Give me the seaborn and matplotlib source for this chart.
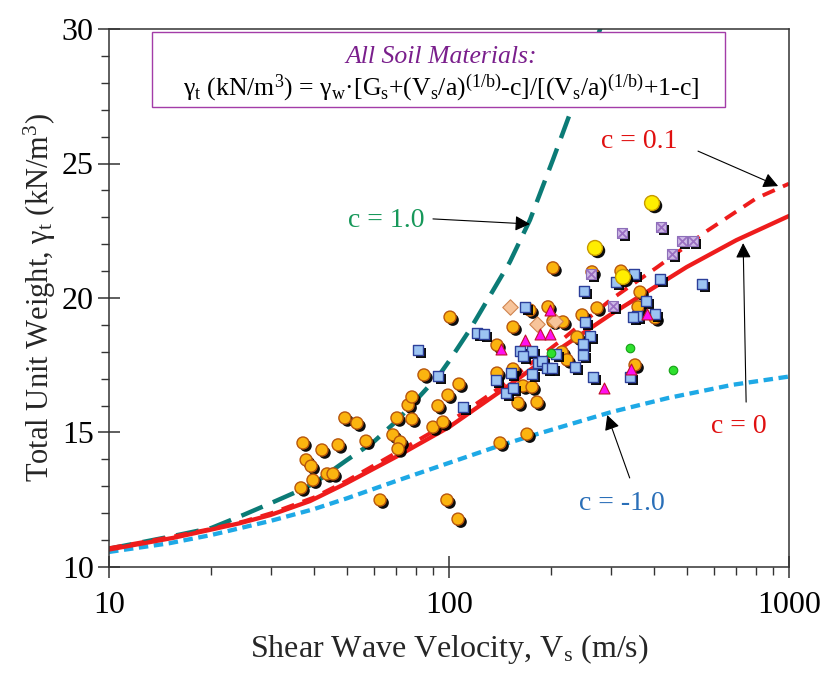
import numpy as np
import pandas as pd
import seaborn as sns
import matplotlib.pyplot as plt
from matplotlib import patheffects as pe
from matplotlib.patches import Rectangle
from matplotlib.ticker import FixedLocator, NullFormatter, LogLocator, MultipleLocator

# ---------------- data ----------------
# Trend curves: total unit weight vs shear wave velocity for several c values
vs_c1 = [10, 15, 20, 25, 30, 35.7, 40, 50, 60, 70, 80, 94, 100, 115, 120, 151, 173, 202, 230, 260, 280, 320]
gt_c1 = [10.68, 11.12, 11.45, 11.95, 12.38, 12.8, 13.1, 13.97, 14.65, 15.42, 16.2, 17.17, 17.65,
         18.81, 19.2, 21.34, 22.9, 25.13, 27.06, 28.9, 30.1, 32.6]

vs_c01 = [10, 15, 20, 25, 30, 40, 50, 70, 100, 135, 215, 300, 410, 575, 800, 1000]
gt_c01 = [10.7, 11.1, 11.42, 11.7, 12.0, 12.58, 13.2, 14.25, 15.38, 16.5, 18.45, 19.95, 21.15, 22.5, 23.7, 24.25]

vs_c0 = [10, 15.4, 19.8, 24.3, 29.8, 39, 50, 70, 100, 150, 200, 300, 500, 700, 1000]
gt_c0 = [10.65, 11.08, 11.38, 11.63, 11.93, 12.45, 13.12, 14.1, 15.2, 16.75, 17.9, 19.4, 21.15, 22.15, 23.05]

vs_cm1 = [10, 15, 20, 30, 40, 50, 70, 100, 140, 177, 300, 440, 680, 1000]
gt_cm1 = [10.56, 10.88, 11.19, 11.72, 12.15, 12.55, 13.2, 13.87, 14.5, 14.9, 15.76, 16.28, 16.77, 17.08]

# Measured soils
clay_vs = [37.2, 38.0, 39.3, 39.8, 36.7, 42.3, 43.8, 45.6, 47.2, 49.4, 53.6, 57.0, 62.7, 68.4,
           71.8, 70.8, 70.3, 77.8, 75.8, 77.8, 84.4, 89.7, 96.0, 92.8, 99.3, 107.0, 100.7, 98.6,
           106.3, 138.4, 154.3, 154.3, 138.4, 159.6, 165.1, 175.5, 181.5, 169.6, 141.3, 202.2,
           173.1, 195.5, 216.4, 202.2, 215.0, 222.4, 238.0, 246.2, 272.5, 263.4, 320.5, 364.6,
           359.7, 403.6, 352.5]
clay_gt = [14.61, 13.98, 13.75, 13.23, 12.94, 14.35, 13.46, 13.46, 14.54, 15.54, 15.35, 14.68, 12.49, 14.91,
           14.65, 14.39, 15.54, 15.50, 16.02, 16.32, 17.14, 15.20, 15.39, 15.99, 16.39, 16.80, 19.29, 12.49,
           11.78, 18.25, 18.92, 17.36, 17.21, 16.10, 16.73, 16.69, 16.13, 14.94, 14.61, 21.12,
           19.55, 19.67, 19.11, 19.14, 17.99, 17.70, 18.55, 19.37, 19.63, 20.97, 21.0, 20.22,
           19.67, 19.26, 17.51]

silt_vs = [167.3, 120.9, 126.7, 81.1, 92.8, 110.0, 137.5, 152.2, 147.1, 154.3, 161.8, 175.5, 165.1,
           182.7, 187.7, 194.2, 200.9, 175.5, 249.5, 251.2, 259.9, 247.8, 247.8, 234.8, 265.2, 309.8,
           350.0, 417.5, 379.7, 403.6, 357.3, 347.7, 554.8, 340.7, 206.4]
silt_gt = [19.67, 18.70, 18.66, 18.07, 17.10, 15.95, 16.95, 17.21, 16.47, 16.65, 18.03, 18.03, 17.84,
           17.58, 17.66, 17.40, 17.40, 17.17, 20.26, 19.11, 18.59, 18.29, 17.88, 17.43, 17.06, 20.59,
           20.89, 20.71, 19.89, 19.41, 19.33, 19.29, 20.52, 17.06, 17.92]

till_vs = [322.7, 420.0, 484.5, 522.0, 452.9, 261.6, 303.6]
till_gt = [22.42, 22.64, 22.12, 22.12, 21.64, 20.89, 19.70]

peat_vs = [151.1, 181.5, 205.0]
peat_gt = [19.67, 19.03, 19.14]

sand_vs = [198.2, 167.3, 185.2, 198.2, 142.2, 285.7, 382.3, 343.0]
sand_gt = [19.55, 18.44, 18.66, 18.66, 18.10, 16.65, 19.41, 17.36]

fill_vs = [199.5, 340.7, 456.0]
fill_gt = [17.96, 18.14, 17.32]

rock_vs = [395.5, 268.8, 324.9]
rock_gt = [23.53, 21.86, 20.78]

# ---------------- style ----------------
sns.set_theme(style="ticks")
plt.rcParams['font.family'] = ['Liberation Serif', 'DejaVu Serif']
plt.rcParams['mathtext.fontset'] = 'custom'
plt.rcParams['mathtext.rm'] = 'Liberation Serif'
plt.rcParams['mathtext.it'] = 'Liberation Serif:italic'
plt.rcParams['mathtext.bf'] = 'Liberation Serif:bold'

fig = plt.figure(figsize=(8.23, 6.75), dpi=100)
ax = fig.add_axes([109 / 823, 1 - 567 / 675, 680 / 823, 538 / 675])
ax.set_xscale('log')

# ---------------- curves ----------------
curves = [
    (vs_c1, gt_c1, '#0b7b76', 3.2, (0, (5.2, 2.5))),
    (vs_cm1, gt_cm1, '#1ea9e6', 3.1, (0, (2.2, 1.3))),
    (vs_c0, gt_c0, '#ee1c1c', 3.1, '-'),
    (vs_c01, gt_c01, '#ee1c1c', 2.8, (0, (3.4, 2.3))),
]
for vx, gy, col, lw, ls in curves:
    sns.lineplot(x=vx, y=gy, ax=ax, color=col, lw=lw, linestyle=ls,
                 estimator=None, sort=False, zorder=2, legend=False)

# ---------------- points ----------------
shadow = [pe.SimplePatchShadow(offset=(2.0, -2.0), shadow_rgbFace='black', alpha=0.95), pe.Normal()]

def pts(vx, gy, **kw):
    sns.scatterplot(x=vx, y=gy, ax=ax, legend=False, **kw)

pts(clay_vs, clay_gt, marker='o', s=75, color='#fbb40f', edgecolor='#b8560c', linewidth=1.0,
    path_effects=shadow, zorder=4)
pts(silt_vs, silt_gt, marker='s', s=50, color='#9cc4f2', edgecolor='#2c3f9a', linewidth=1.0,
    path_effects=shadow, zorder=5)
pts(till_vs, till_gt, marker='s', s=52, color='#cdb9e6', edgecolor='#8c70b8', linewidth=0.8,
    path_effects=shadow, zorder=5)
pts(till_vs, till_gt, marker='x', s=40, color='#9b6fc2', linewidth=1.3, zorder=5.1)
pts(peat_vs, peat_gt, marker='D', s=62, color='#f7c49a', edgecolor='#d08450', linewidth=0.8, zorder=5)
pts(sand_vs, sand_gt, marker='^', s=62, color='#ff10f0', edgecolor='#c0102a', linewidth=0.8, zorder=5.2)
pts(fill_vs, fill_gt, marker='o', s=38, color='#2ee02e', edgecolor='#16a016', linewidth=0.8, zorder=5.2)
pts(rock_vs, rock_gt, marker='o', s=115, color='#ffee00', edgecolor='#c89a00', linewidth=1.0,
    path_effects=shadow, zorder=5.3)

# ---------------- axes ----------------
ax.set_xlim(10, 1000)
ax.set_ylim(10, 30)
ax.xaxis.set_major_locator(FixedLocator([10, 100, 1000]))
ax.set_xticklabels(['10', '100', '1000'])
ax.xaxis.set_minor_locator(LogLocator(base=10, subs=np.arange(2, 10)))
ax.xaxis.set_minor_formatter(NullFormatter())
ax.yaxis.set_major_locator(MultipleLocator(5))
ax.yaxis.set_minor_locator(MultipleLocator(1))
ax.tick_params(which='major', direction='inout', length=16, width=1.1, color='#333333',
               labelsize=23, labelcolor='black', bottom=True, left=True, top=False, right=False)
ax.tick_params(axis='x', which='major', pad=9)
ax.tick_params(axis='y', which='major', pad=3)
ax.tick_params(which='minor', direction='out', length=6, width=1.0, color='#333333',
               bottom=True, left=True, top=False, right=False)
for sp in ax.spines.values():
    sp.set_color('#333333')
    sp.set_linewidth(1.1)
    sp.set_visible(True)

ax.set_xlabel('Shear Wave Velocity, V$_\\mathrm{s}$ (m/s)', fontsize=23, labelpad=9)
ax.set_ylabel('Total Unit Weight, $\\mathrm{\\gamma_t}$ (kN/m$^3$)', fontsize=22, labelpad=3)

# ---------------- formula box ----------------
ax.add_patch(Rectangle((0.0632, 0.855), 0.8426, 0.139, transform=ax.transAxes,
                       facecolor='white', edgecolor='#a33ca8', linewidth=1.0, zorder=8))
ax.text(0.488, 0.948, 'All Soil Materials:', transform=ax.transAxes, ha='center', va='center',
        fontsize=18.5, style='italic', color='#7a1f8c', zorder=9)
ax.text(0.488, 0.889,
        'γ$_\\mathrm{t}$ (kN/m$^\\mathrm{3}$) = γ$_\\mathrm{w}$·[G$_\\mathrm{s}$+(V$_\\mathrm{s}$/a)$^\\mathrm{(1/b)}$-c]/'
        '[(V$_\\mathrm{s}$/a)$^\\mathrm{(1/b)}$+1-c]',
        transform=ax.transAxes, ha='center', va='center', fontsize=18.5, color='black', zorder=9)

# ---------------- curve labels ----------------
arrow = dict(arrowstyle='-|>,head_length=0.45,head_width=0.23', color='black', lw=0.8,
             mutation_scale=20, shrinkA=0, shrinkB=0)
ax.text(84.9, 22.64, 'c = 1.0', ha='right', va='baseline', fontsize=20, color='#17985a', zorder=9)
ax.annotate('', xy=(173, 22.75), xytext=(89.7, 22.94), arrowprops=arrow, zorder=9)

ax.text(469, 25.58, 'c = 0.1', ha='right', va='baseline', fontsize=20, color='#e01010', zorder=9)
ax.annotate('', xy=(929, 24.16), xytext=(540, 25.46), arrowprops=arrow, zorder=9)

ax.text(710, 14.98, 'c = 0', ha='center', va='baseline', fontsize=20, color='#e01010', zorder=9)
ax.annotate('', xy=(733, 22.04), xytext=(748, 16.13), arrowprops=arrow, zorder=9)

ax.text(322.8, 12.12, 'c = -1.0', ha='center', va='baseline', fontsize=20, color='#2a6fb8', zorder=9)
ax.annotate('', xy=(292, 15.65), xytext=(340, 13.31), arrowprops=arrow, zorder=9)

fig.savefig('out.png', dpi=100)
